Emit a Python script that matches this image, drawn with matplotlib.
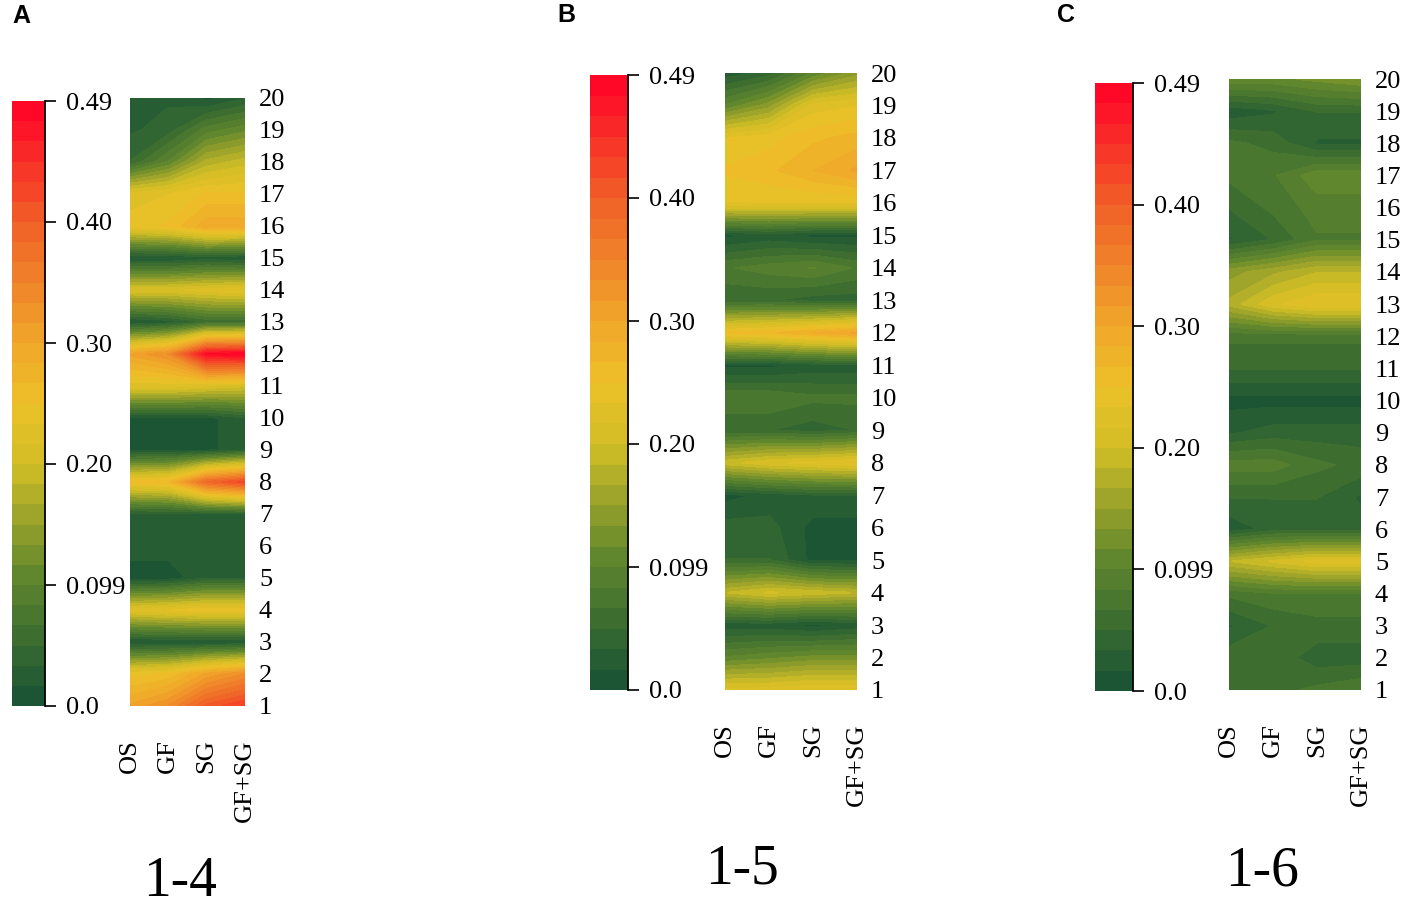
import numpy as np
import matplotlib
matplotlib.use("Agg")
import matplotlib.pyplot as plt
from matplotlib.colors import LinearSegmentedColormap

# columns and rows of every map
treatments = ['OS', 'GF', 'SG', 'GF+SG']
rows = list(range(1, 21))
panel_titles = ['1-4', '1-5', '1-6']
panel_letters = ['A', 'B', 'C']
cbar_ticks = [0.0, 0.099, 0.198, 0.297, 0.396, 0.495]
cbar_ticklabels = ['0.0', '0.099', '0.20', '0.30', '0.40', '0.49']

# values per row (row 1 first), one column per treatment: OS, GF, SG, GF+SG
vals_14 = [
    [0.30, 0.33, 0.40, 0.43],
    [0.24, 0.25, 0.30, 0.33],
    [0.01, 0.01, 0.01, 0.01],
    [0.22, 0.23, 0.24, 0.24],
    [0.005, 0.005, 0.03, 0.03],
    [0.025, 0.025, 0.025, 0.025],
    [0.025, 0.025, 0.025, 0.025],
    [0.25, 0.26, 0.38, 0.42],
    [0.01, 0.01, 0.01, 0.03],
    [0.01, 0.01, 0.01, 0.03],
    [0.22, 0.22, 0.21, 0.20],
    [0.30, 0.33, 0.48, 0.49],
    [0.01, 0.02, 0.05, 0.05],
    [0.21, 0.21, 0.22, 0.23],
    [0.01, 0.01, 0.02, 0.01],
    [0.24, 0.25, 0.29, 0.29],
    [0.22, 0.23, 0.25, 0.25],
    [0.05, 0.10, 0.17, 0.19],
    [0.03, 0.04, 0.09, 0.11],
    [0.03, 0.03, 0.01, 0.03],
]

vals_15 = [
    [0.22, 0.22, 0.23, 0.23],
    [0.10, 0.11, 0.12, 0.12],
    [0.02, 0.02, 0.01, 0.02],
    [0.18, 0.20, 0.19, 0.18],
    [0.05, 0.05, 0.01, 0.01],
    [0.04, 0.04, 0.01, 0.01],
    [0.01, 0.02, 0.03, 0.03],
    [0.19, 0.21, 0.22, 0.23],
    [0.05, 0.05, 0.04, 0.05],
    [0.08, 0.08, 0.07, 0.07],
    [0.01, 0.01, 0.02, 0.02],
    [0.25, 0.26, 0.28, 0.30],
    [0.05, 0.05, 0.04, 0.04],
    [0.08, 0.09, 0.10, 0.08],
    [0.01, 0.02, 0.01, 0.01],
    [0.23, 0.23, 0.23, 0.23],
    [0.25, 0.26, 0.28, 0.30],
    [0.23, 0.24, 0.26, 0.27],
    [0.10, 0.14, 0.22, 0.23],
    [0.02, 0.04, 0.10, 0.14],
]

vals_16 = [
    [0.06, 0.06, 0.07, 0.08],
    [0.06, 0.06, 0.04, 0.04],
    [0.03, 0.05, 0.06, 0.06],
    [0.07, 0.08, 0.08, 0.08],
    [0.18, 0.20, 0.22, 0.22],
    [0.02, 0.04, 0.04, 0.04],
    [0.05, 0.05, 0.05, 0.03],
    [0.09, 0.09, 0.07, 0.06],
    [0.03, 0.04, 0.04, 0.04],
    [0.01, 0.01, 0.01, 0.01],
    [0.05, 0.05, 0.05, 0.05],
    [0.07, 0.07, 0.07, 0.07],
    [0.17, 0.21, 0.23, 0.23],
    [0.14, 0.16, 0.18, 0.18],
    [0.03, 0.05, 0.08, 0.08],
    [0.05, 0.07, 0.09, 0.09],
    [0.07, 0.08, 0.11, 0.11],
    [0.07, 0.06, 0.03, 0.03],
    [0.02, 0.03, 0.05, 0.05],
    [0.11, 0.11, 0.12, 0.13],
]

all_vals = [vals_14, vals_15, vals_16]

# pixel boxes (left, top, right, bottom) for colourbar and map of each panel
cbar_boxes = [(12, 101, 45, 706), (590, 75, 628, 690), (1095, 83, 1133, 691)]
map_boxes = [(130, 98, 245, 706), (725, 73, 857, 690), (1229, 79, 1361, 690)]
title_pos = [(180, 882), (742, 870), (1262, 872)]
letter_pos = [(12, 16), (557, 15), (1057, 15)]

W, H = 1417, 915
plt.rcParams['font.family'] = ['Liberation Serif', 'DejaVu Serif']

cmap = LinearSegmentedColormap.from_list('gr', [
    (0.0, '#1b5533'), (0.2, '#5e862e'), (0.4, '#d4be26'), (0.5, '#ecc028'),
    (0.6, '#f0a82a'), (0.8, '#f06428'), (1.0, '#ff0828')])
levels = np.linspace(0, 0.495, 31)
colors = cmap(np.linspace(0, 1, 30))

fig = plt.figure(figsize=(W / 100, H / 100), dpi=100)


def rect(box):
    l, t, r, b = box
    return [l / W, 1 - b / H, (r - l) / W, (b - t) / H]


xs = np.arange(len(treatments))
ys = np.array(rows)
for i in range(3):
    z = np.array(all_vals[i])
    ax = fig.add_axes(rect(map_boxes[i]))
    cs = ax.contourf(xs, ys, z, levels=levels, colors=colors)
    cs.set_edgecolor('face')
    cs.set_linewidth(0.6)
    ax.set_xlim(0, 3)
    ax.set_ylim(1, 20)
    for s in ax.spines.values():
        s.set_visible(False)
    ax.yaxis.tick_right()
    ax.set_yticks(rows)
    ax.set_xticks(xs)
    ax.set_xticklabels(treatments, rotation=90)
    ax.tick_params(axis='y', length=0, pad=10, labelsize=19)
    ax.tick_params(axis='x', length=0, pad=24, labelsize=19)

    cax = fig.add_axes(rect(cbar_boxes[i]))
    cb = fig.colorbar(cs, cax=cax, ticks=cbar_ticks)
    cb.ax.set_yticklabels(cbar_ticklabels)
    cb.outline.set_visible(False)
    cax.tick_params(length=8, width=1.2, pad=7, labelsize=19, color='black')
    cax.plot([1, 1], [0, 1], transform=cax.transAxes, color='black',
             lw=1.3, clip_on=False)

    fig.text(title_pos[i][0] / W, 1 - title_pos[i][1] / H, panel_titles[i],
             fontsize=40, ha='center', va='center')
    fig.text(letter_pos[i][0] / W, 1 - letter_pos[i][1] / H, panel_letters[i],
             fontsize=18, fontweight='bold', family='Liberation Sans',
             ha='left', va='center')

fig.savefig('out.png', dpi=100)
